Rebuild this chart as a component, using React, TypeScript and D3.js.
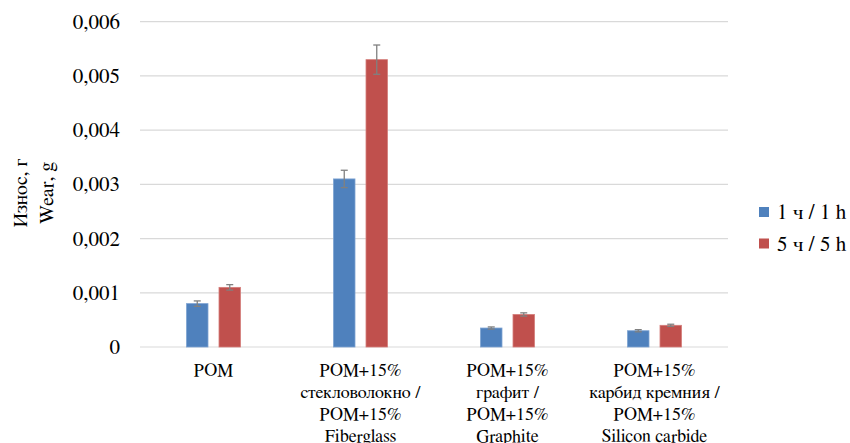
import React from "react";
import * as d3 from "d3";

const categories = [
  ["POM"],
  ["POM+15%", "стекловолокно /", "POM+15%", "Fiberglass"],
  ["POM+15%", "графит /", "POM+15%", "Graphite"],
  ["POM+15%", "карбид кремния /", "POM+15%", "Silicon carbide"],
];
const seriesNames = ["1 ч / 1 h", "5 ч / 5 h"];
const seriesColors = ["#4F81BD", "#C0504D"];
const values1h = [0.0008, 0.0031, 0.00035, 0.0003];
const values5h = [0.0011, 0.0053, 0.0006, 0.0004];
const err1h = [0.00005, 0.00016, 0.00002, 0.00002];
const err5h = [0.00005, 0.00027, 0.00003, 0.00002];
const yTicks = [0, 0.001, 0.002, 0.003, 0.004, 0.005, 0.006];

const serif = "FreeSerif";

export default function App() {
  const width = 850;
  const height = 443;
  const x0 = d3.scaleBand().domain(d3.range(categories.length).map(String)).range([140, 728]);
  const y = d3.scaleLinear().domain([0, 0.006]).range([347, 21.7]);
  const barW = 21.5;
  const gap = 11;
  const series = [values1h, values5h];
  const errs = [err1h, err5h];
  const fmt = (v: number) => (v === 0 ? "0" : d3.format(".3f")(v).replace(".", ","));

  return (
    <svg width={width} height={height} style={{ position: "absolute", left: 0, top: 0 }}>
      {yTicks.map((t) => (
        <g key={t}>
          <line x1={140} x2={728} y1={y(t)} y2={y(t)} stroke="#D9D9D9" strokeWidth={1.2} />
          <text x={120} y={y(t) + 7} textAnchor="end" fontSize={21} fontFamily={serif}>
            {fmt(t)}
          </text>
        </g>
      ))}
      {categories.map((lines, i) => {
        const cx = x0(String(i))! + x0.bandwidth() / 2;
        return (
          <g key={i}>
            {series.map((vals, s) => {
              const bx = cx + (s === 0 ? -gap / 2 - barW : gap / 2);
              const top = y(vals[i]);
              const e = errs[s][i];
              const mid = bx + barW / 2;
              return (
                <g key={s}>
                  <rect x={bx} y={top} width={barW} height={y(0) - top} fill={seriesColors[s]}
                    stroke={s === 0 ? "#7DA3D2" : "#D47D7A"} strokeWidth={0.8} />
                  <line x1={mid} x2={mid} y1={y(vals[i] + e)} y2={y(vals[i] - e)} stroke="#808080" strokeWidth={1.3} />
                  <line x1={mid - 3.5} x2={mid + 3.5} y1={y(vals[i] + e)} y2={y(vals[i] + e)} stroke="#808080" strokeWidth={1.3} />
                  <line x1={mid - 3.5} x2={mid + 3.5} y1={y(vals[i] - e)} y2={y(vals[i] - e)} stroke="#808080" strokeWidth={1.3} />
                </g>
              );
            })}
            {lines.map((l, k) => (
              <text key={k} x={cx} y={376 + k * 22} textAnchor="middle" fontSize={18} fontFamily={serif}>
                {l}
              </text>
            ))}
          </g>
        );
      })}
      <g transform="translate(0,193) rotate(-90)">
        <text x={0} y={27} textAnchor="middle" fontSize={20} fontFamily={serif}>Износ, г</text>
        <text x={0} y={53} textAnchor="middle" fontSize={20} fontFamily={serif}>Wear, g</text>
      </g>
      {seriesNames.map((n, s) => (
        <g key={n} transform={`translate(759,${212 + s * 31.5})`}>
          <rect x={0} y={-5} width={10} height={10} fill={seriesColors[s]} />
          <text x={18} y={7} fontSize={21} fontFamily={serif}>{n}</text>
        </g>
      ))}
    </svg>
  );
}
